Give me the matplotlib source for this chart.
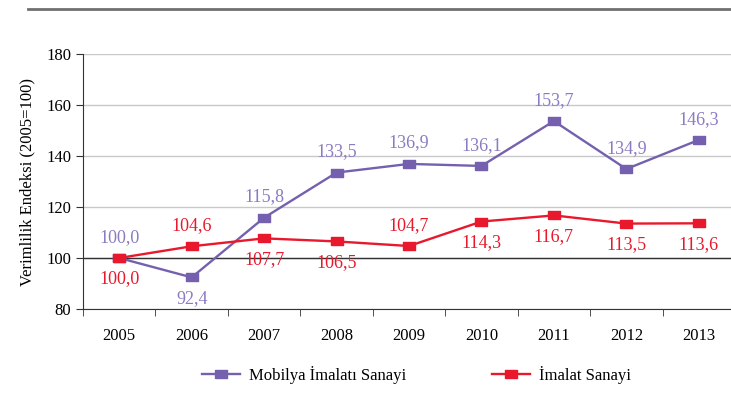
import numpy as np
import matplotlib.pyplot as plt
from matplotlib.lines import Line2D

# data
years = ["2005", "2006", "2007", "2008", "2009", "2010", "2011", "2012", "2013"]
mobilya = [100.0, 92.4, 115.8, 133.5, 136.9, 136.1, 153.7, 134.9, 146.3]
imalat = [100.0, 104.6, 107.7, 106.5, 104.7, 114.3, 116.7, 113.5, 113.6]
# label side: +1 above, -1 below
mobilya_side = [1, -1, 1, 1, 1, 1, 1, 1, 1]
imalat_side = [-1, 1, -1, -1, 1, -1, -1, -1, -1]

purple = "#7560b0"
purple_lbl = "#8a7bc2"
red = "#e8192c"

plt.rcParams['font.family'] = ['Liberation Serif', 'DejaVu Serif']

fig = plt.figure(figsize=(7.31, 4.17), dpi=100)
ax = fig.add_axes([83/731, 1-309/417, 652/731, 255/417])

x = np.arange(len(years))

# slightly wide square marker
mk = [(-1.3, -0.9), (1.3, -0.9), (1.3, 0.9), (-1.3, 0.9), (-1.3, -0.9)]

ax.plot(x, mobilya, color=purple, lw=1.7, marker=mk, ms=8, zorder=3)
ax.plot(x, imalat, color=red, lw=1.7, marker=mk, ms=8, zorder=3)

def fmt(v):
    return f"{v:.1f}".replace(".", ",")

for xi, v, s in zip(x, mobilya, mobilya_side):
    ax.annotate(fmt(v), (xi, v), xytext=(0, 15*s), textcoords='offset points',
                ha='center', va='center', color=purple_lbl, fontsize=13)
for xi, v, s in zip(x, imalat, imalat_side):
    ax.annotate(fmt(v), (xi, v), xytext=(0, 15*s), textcoords='offset points',
                ha='center', va='center', color=red, fontsize=13)

ax.set_xlim(-0.5, len(years) - 0.5)
ax.set_ylim(80, 180)
ax.set_yticks(range(80, 181, 20))
ax.yaxis.grid(True, color='#c8c8c8', lw=1)
ax.set_axisbelow(True)
ax.axhline(100, color='#333333', lw=1, zorder=2)

ax.set_xticks(x)
ax.set_xticklabels(years, fontsize=12)
ax.set_xticks(np.arange(-0.5, len(years)), minor=True)
ax.tick_params(axis='x', which='major', length=0, pad=14)
ax.tick_params(axis='x', which='minor', length=5, direction='out', color='#333333')
ax.tick_params(axis='y', length=5, direction='out', labelsize=12, color='#333333')

for s in ['top', 'right']:
    ax.spines[s].set_visible(False)
ax.spines['left'].set_color('#333333')
ax.spines['bottom'].set_color('#333333')

ax.set_ylabel("Verimlilik Endeksi (2005=100)", fontsize=12, labelpad=8)

# top rule
fig.add_artist(Line2D([28/731, 1], [1-9/417, 1-9/417], color='#707070', lw=2))

h1 = Line2D([], [], color=purple, lw=1.7, marker=mk, ms=8)
h2 = Line2D([], [], color=red, lw=1.7, marker=mk, ms=8)
leg1 = fig.legend([h1], ["Mobilya İmalatı Sanayi"], loc='center left',
                  bbox_to_anchor=(202/731, 1-375/417), frameon=False, fontsize=12,
                  borderpad=0, borderaxespad=0, handlelength=2.3, handletextpad=0.5)
leg2 = fig.legend([h2], ["İmalat Sanayi"], loc='center left',
                  bbox_to_anchor=(492/731, 1-375/417), frameon=False, fontsize=12,
                  borderpad=0, borderaxespad=0, handlelength=2.3, handletextpad=0.5)

fig.savefig("out.png", dpi=100)
